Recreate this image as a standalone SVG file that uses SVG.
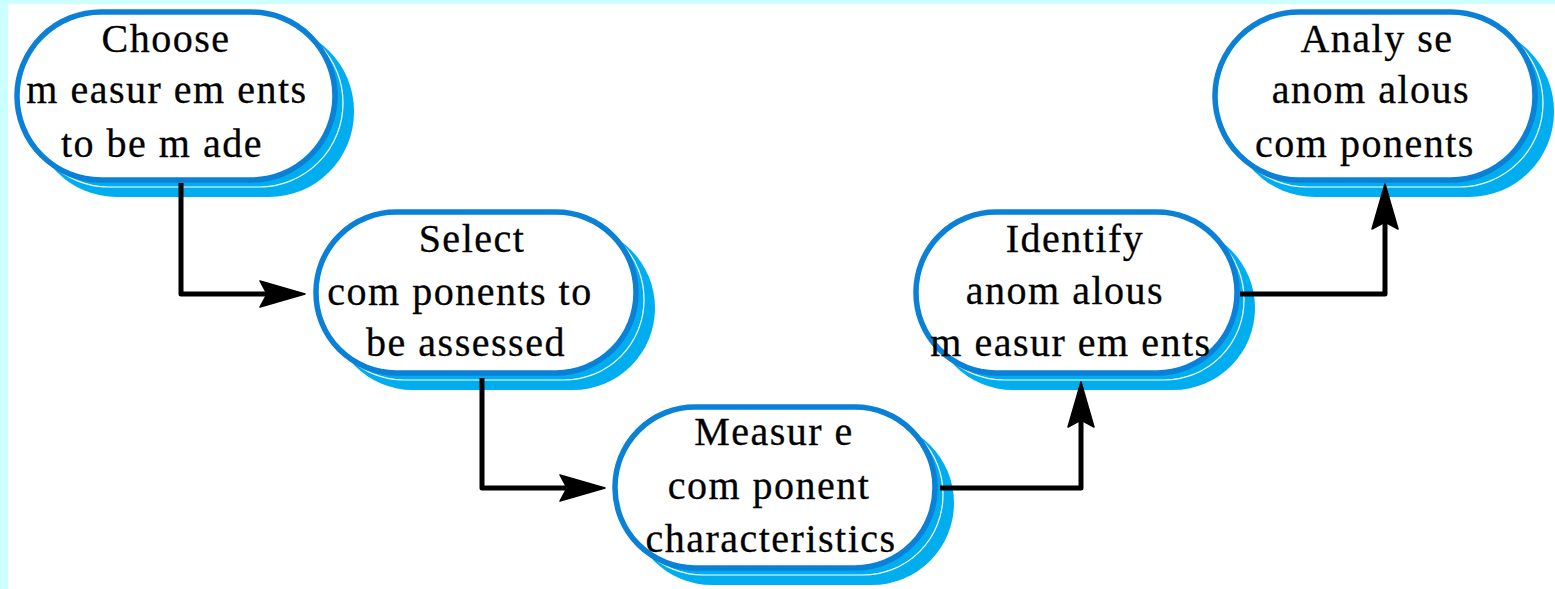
<svg xmlns="http://www.w3.org/2000/svg" width="1555" height="589" viewBox="0 0 1555 589">
<style>
.shadow{fill:#00AEEF;stroke:none}
.streak{fill:none;stroke:#FFFFFF;stroke-width:1.2}
.box{fill:#FFFFFF;stroke:#0A80D6;stroke-width:5.5}
.lbl{font-size:40px;fill:#000000;text-anchor:middle;letter-spacing:1.5px;stroke:#000000;stroke-width:0.3}
.conn{fill:none;stroke:#000000;stroke-width:5;stroke-linejoin:round}
</style>
<defs>
<marker id="arrow" markerUnits="userSpaceOnUse" markerWidth="48" markerHeight="30" refX="34" refY="14" orient="auto" viewBox="0 0 48 30">
<path d="M1,1 L46,14 L1,27 L8,14 Z" fill="#000000" stroke="#000000" stroke-width="1.5" stroke-linejoin="round"/>
</marker>
</defs>
<rect x="0" y="0" width="1555" height="589" fill="#CCFFFF"/>
<rect x="8" y="4" width="1547" height="585" fill="#FFFFFF"/>

<g id="n1">
<rect class="shadow" x="32" y="26" width="322" height="171" rx="85"/>
<rect class="streak" x="25" y="19" width="318" height="168" rx="84"/>
<rect class="box" x="17" y="12" width="318" height="168" rx="84"/>
<g font-family="'Liberation Serif', 'Times New Roman', Times, serif">
<text class="lbl" x="166" y="52">Choose</text>
<text class="lbl" x="167" y="103">m easur em ents</text>
<text class="lbl" x="162" y="157">to be m ade</text>
</g>
</g>

<g id="n2">
<rect class="shadow" x="331" y="226" width="324" height="164" rx="82"/>
<rect class="streak" x="324" y="219" width="320" height="161" rx="80"/>
<rect class="box" x="316" y="212" width="320" height="161" rx="80"/>
<g font-family="'Liberation Serif', 'Times New Roman', Times, serif">
<text class="lbl" x="472" y="252">Select</text>
<text class="lbl" x="460" y="305">com ponents to</text>
<text class="lbl" x="466" y="356">be assessed</text>
</g>
</g>

<g id="n3">
<rect class="shadow" x="630" y="421" width="324" height="164" rx="82"/>
<rect class="streak" x="623" y="414" width="320" height="161" rx="80"/>
<rect class="box" x="615" y="407" width="320" height="161" rx="80"/>
<g font-family="'Liberation Serif', 'Times New Roman', Times, serif">
<text class="lbl" x="774" y="445">Measur e</text>
<text class="lbl" x="769" y="499">com ponent</text>
<text class="lbl" x="771" y="552">characteristics</text>
</g>
</g>

<g id="n4">
<rect class="shadow" x="931" y="226" width="324" height="164" rx="82"/>
<rect class="streak" x="924" y="219" width="320" height="161" rx="80"/>
<rect class="box" x="916" y="212" width="321" height="161" rx="80"/>
<g font-family="'Liberation Serif', 'Times New Roman', Times, serif">
<text class="lbl" x="1075" y="252">Identify</text>
<text class="lbl" x="1065" y="304">anom alous</text>
<text class="lbl" x="1071" y="356">m easur em ents</text>
</g>
</g>

<g id="n5">
<rect class="shadow" x="1230" y="26" width="324" height="171" rx="85"/>
<rect class="streak" x="1223" y="19" width="320" height="168" rx="84"/>
<rect class="box" x="1215" y="12" width="320" height="168" rx="84"/>
<g font-family="'Liberation Serif', 'Times New Roman', Times, serif">
<text class="lbl" x="1377" y="52">Analy se</text>
<text class="lbl" x="1371" y="103">anom alous</text>
<text class="lbl" x="1365" y="157">com ponents</text>
</g>
</g>

<g id="connectors">
<path class="conn" d="M181,183 L181,294 L293,294" marker-end="url(#arrow)"/>
<path class="conn" d="M482,378 L482,488 L593,488" marker-end="url(#arrow)"/>
<path class="conn" d="M940,488 L1081,488 L1081,394" marker-end="url(#arrow)"/>
<path class="conn" d="M1240,294 L1385,294 L1385,196" marker-end="url(#arrow)"/>
</g>
</svg>
